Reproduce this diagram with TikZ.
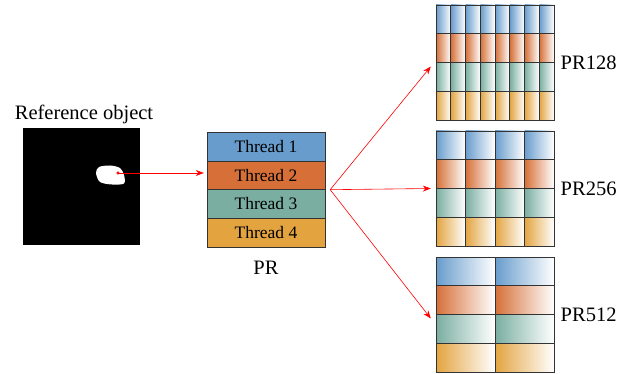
\documentclass[tikz,border=0pt]{standalone}
\usepackage{fontspec}
\setmainfont{Liberation Serif}
\usetikzlibrary{arrows.meta,positioning}

\definecolor{thblue}{RGB}{104,156,204}
\definecolor{thorange}{RGB}{214,112,56}
\definecolor{thteal}{RGB}{122,174,160}
\definecolor{thgold}{RGB}{227,164,64}

\tikzset{
  lbl/.style={font=\fontsize{20.5}{24}\selectfont},
  thr/.style={draw=black!80, minimum width=118pt, minimum height=28.75pt, inner sep=0pt, font=\fontsize{17.5}{20}\selectfont},
  cell/.style={draw=black!80, line width=0.7pt},
  link/.style={red, line width=0.6pt, -{Stealth[length=8pt,width=6pt]}},
}

\begin{document}
\begin{tikzpicture}[x=1pt,y=-1pt]
  \useasboundingbox (0,0) rectangle (639,374);

  % reference object
  \node[name=ref, fill=black, minimum size=117pt, inner sep=0pt] at (81.5,186.5) {};
  \node[lbl, name=reflbl] at (84,114) {Reference object};
  \fill[white] plot[smooth cycle] coordinates {(96,173) (99,167) (110,165.5) (120,168) (124,175) (124,183.5) (112,184.5) (100,182)};
  \filldraw[red] (118,173) circle (1.3pt) coordinate (dot);

  % PR
  \foreach \c [count=\i] in {thblue,thorange,thteal,thgold}
    \node[thr, fill=\c, name=t\i] at (266,{117.625+28.75*\i}) {Thread \i};
  \node[lbl, name=prlbl] at (266,268) {PR};
  \draw[link] (dot) -- ([xshift=-3pt]dot -| t2.west);

  % split grids
  \foreach \name/\cols/\ytop in {PR128/8/5, PR256/4/131, PR512/2/257}{
    \node[name=g\cols, minimum width=118pt, minimum height=115pt, inner sep=0pt] at (495,{\ytop+57.5}) {};
    \foreach \c [count=\r] in {thblue,thorange,thteal,thgold}
      \foreach \k in {1,...,\cols}
        \draw[cell, left color=\c, right color=white]
          ({436+118/\cols*(\k-1)},{\ytop+28.75*(\r-1)}) rectangle ++({118/\cols},28.75);
    \node[lbl, right=3pt of g\cols] {\name};
  }

  \coordinate (fork) at ([xshift=5pt]t2.south east);
  \draw[link] (fork) -- ([xshift=-5pt,yshift=-4pt]g8.west);
  \draw[link] (fork) -- ([xshift=-5pt]g4.west);
  \draw[link] (fork) -- ([xshift=-5pt,yshift=-4pt]g2.west);
\end{tikzpicture}
\end{document}
